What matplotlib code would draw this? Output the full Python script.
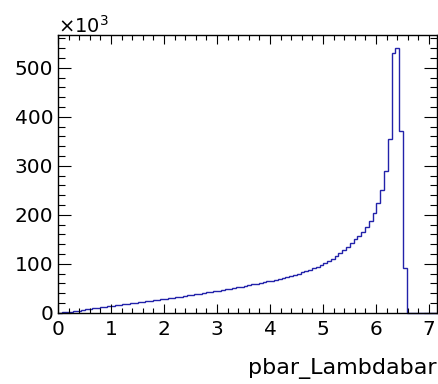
import numpy as np
import matplotlib
matplotlib.use("Agg")
import matplotlib.pyplot as plt
from matplotlib.ticker import MultipleLocator

# histogram of pbar_Lambdabar, 100 bins, counts in thousands
x_min, x_max = 0.0, 7.15
n_bins = 100
counts_k = [
    0.3, 0.8, 1.4, 2.2, 3.2, 4.3, 5.5, 6.8, 7.9, 9.0,
    10.0, 11.0, 12.0, 13.0, 14.0, 15.0, 16.0, 17.0, 18.1, 19.3,
    20.4, 21.3, 22.3, 23.3, 24.3, 25.3, 26.3, 27.3, 28.4, 29.5,
    30.6, 31.8, 33.0, 34.1, 35.3, 36.5, 37.7, 38.9, 40.1, 41.3,
    42.6, 43.9, 45.2, 46.5, 47.8, 49.1, 50.5, 51.9, 53.3, 54.7,
    56.2, 57.7, 59.2, 60.8, 62.4, 64.0, 65.7, 67.5, 69.3, 71.2,
    73.2, 75.3, 77.5, 79.8, 82.3, 84.9, 87.7, 90.7, 94.0, 97.5,
    101.5, 105.8, 110.5, 115.7, 121.5, 127.8, 134.8, 142.5, 150.5, 157.0,
    164.0, 175.0, 188.0, 204.0, 224.0, 251.0, 290.0, 355.0, 530.0, 540.0,
    372.0, 92.0, 0.0, 0.0, 0.0, 0.0, 0.0, 0.0, 0.0, 0.0,
]
x_label = "pbar_Lambdabar"

counts_k = np.array(counts_k)
edges = np.linspace(x_min, x_max, n_bins + 1)

plt.rcParams['font.family'] = ['DejaVu Sans']
plt.rcParams['mathtext.fontset'] = 'dejavusans'

fig = plt.figure(figsize=(4.38, 3.84), dpi=100)
ax = fig.add_axes([58/438, (384-312.7)/384, 379/438, 277.7/384])

ax.stairs(counts_k, edges, color='#2222aa', lw=1.0, clip_on=False)

ax.set_xlim(x_min, x_max)
ax.set_ylim(0, 1.05 * counts_k.max())

ax.xaxis.set_major_locator(MultipleLocator(1))
ax.xaxis.set_minor_locator(MultipleLocator(0.2))
ax.yaxis.set_major_locator(MultipleLocator(100))
ax.yaxis.set_minor_locator(MultipleLocator(20))

ax.tick_params(axis='both', which='both', direction='in', top=True, right=True,
               width=0.8, labelsize=14.5)
ax.tick_params(axis='x', which='major', length=6.5, pad=5)
ax.tick_params(axis='x', which='minor', length=3.3)
ax.tick_params(axis='y', which='major', length=9.4, pad=3.5)
ax.tick_params(axis='y', which='minor', length=4.7)
for s in ax.spines.values():
    s.set_linewidth(1.0)

fig.text(58/438, (384-33)/384, r'$\times10^{3}$', ha='left', va='baseline', fontsize=14)
fig.text(437/438, 10/384, x_label, ha='right', va='baseline', fontsize=16)

fig.savefig("out.png", dpi=100)
